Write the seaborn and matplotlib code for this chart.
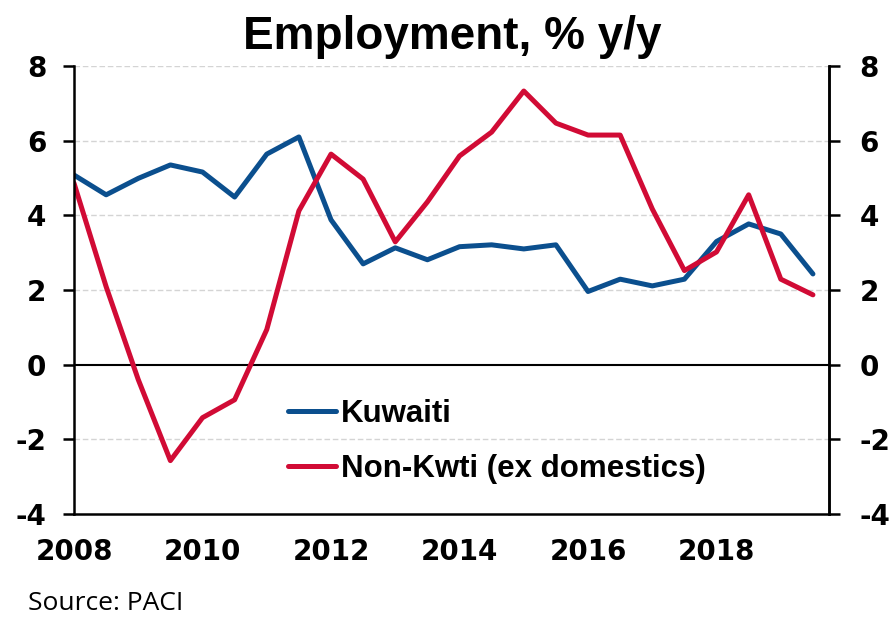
import numpy as np
import pandas as pd
import matplotlib
matplotlib.use("Agg")
import matplotlib.pyplot as plt
import seaborn as sns

# Data (semi-annual)
periods = [2008.0, 2008.5, 2009.0, 2009.5, 2010.0, 2010.5, 2011.0, 2011.5,
           2012.0, 2012.5, 2013.0, 2013.5, 2014.0, 2014.5, 2015.0, 2015.5,
           2016.0, 2016.5, 2017.0, 2017.5, 2018.0, 2018.5, 2019.0, 2019.5]
kuwaiti = [5.08, 4.55, 4.99, 5.35, 5.16, 4.49, 5.64, 6.10,
           3.88, 2.70, 3.13, 2.81, 3.16, 3.21, 3.10, 3.21,
           1.96, 2.29, 2.11, 2.29, 3.30, 3.77, 3.50, 2.43]
non_kwti = [4.86, 2.09, -0.40, -2.57, -1.42, -0.94, 0.94, 4.12,
            5.64, 4.97, 3.29, 4.36, 5.59, 6.23, 7.33, 6.47,
            6.15, 6.15, 4.17, 2.52, 3.02, 4.55, 2.29, 1.87]
series_names = ["Kuwaiti", "Non-Kwti (ex domestics)"]
y_ticks = [-4, -2, 0, 2, 4, 6, 8]
x_label_years = [2008, 2010, 2012, 2014, 2016, 2018]

df = pd.DataFrame({
    "period": periods * 2,
    "value": kuwaiti + non_kwti,
    "series": [series_names[0]] * len(periods) + [series_names[1]] * len(periods),
})

sns.set_style("white")
plt.rcParams["font.family"] = ["DejaVu Sans"]
plt.rcParams["text.color"] = "black"
plt.rcParams["xtick.color"] = "black"
plt.rcParams["ytick.color"] = "black"

fig = plt.figure(figsize=(8.9, 6.21), dpi=100)
ax = fig.add_axes([74/890, 1-514/621, (829-74)/890, (514-66)/621])

palette = {series_names[0]: "#0B4F8E", series_names[1]: "#D10B35"}
sns.lineplot(data=df, x="period", y="value", hue="series", palette=palette,
             linewidth=3.6, ax=ax, legend=True)

ax.set_xlim(2008, 2019.75)
ax.set_ylim(-4, 8)

# grid
for yv in y_ticks:
    if yv not in (0, -4):
        ax.axhline(yv, color="#d4d4d4", lw=1.0, ls=(0, (4, 2)), zorder=0)
ax.axhline(0, color="black", lw=1.5, zorder=1)

ax.set_yticks(y_ticks)
ax.set_yticklabels([str(v) for v in y_ticks])
years = list(range(2008, 2020))
ax.set_xticks(years)
ax.set_xticklabels([str(y) if y in x_label_years else "" for y in years])

ax.spines["top"].set_visible(False)
for s in ["left", "right", "bottom"]:
    ax.spines[s].set_color("black")
    ax.spines[s].set_linewidth(1.8)

ax.tick_params(axis="y", direction="out", length=8, width=1.8, pad=12, labelsize=20)
ax.tick_params(axis="x", direction="out", length=8, width=1.8, pad=9, labelsize=20)
for lab in ax.get_xticklabels() + ax.get_yticklabels():
    lab.set_fontweight("bold")
ax.set_xlabel("")
ax.set_ylabel("")

ax2 = ax.twinx()
ax2.set_ylim(-4, 8)
ax2.set_yticks(y_ticks)
ax2.set_yticklabels([str(v) for v in y_ticks])
ax2.tick_params(axis="y", direction="out", length=8, width=1.8, pad=14, labelsize=20)
for lab in ax2.get_yticklabels():
    lab.set_fontweight("bold")
for s in ["top", "left", "bottom"]:
    ax2.spines[s].set_visible(False)
ax2.spines["right"].set_color("black")
ax2.spines["right"].set_linewidth(1.8)

leg = ax.legend(loc="center left", bbox_to_anchor=(0.283, 0.162),
                frameon=False, handlelength=1.55, handletextpad=0.15,
                borderpad=0, borderaxespad=0,
                labelspacing=0.8,
                prop={"weight": "bold", "size": 22.5, "family": "Liberation Sans"})
for h in leg.get_lines():
    h.set_linewidth(3.6)

fig.text(0.508, 0.94, "Employment, % y/y", ha="center", va="center",
         fontsize=33, fontweight="bold", family="Liberation Sans")
fig.text(28/890, 1-603/621, "Source: PACI", ha="left", va="center",
         fontsize=19, family="Open Sans")

fig.savefig("out.png", dpi=100)
